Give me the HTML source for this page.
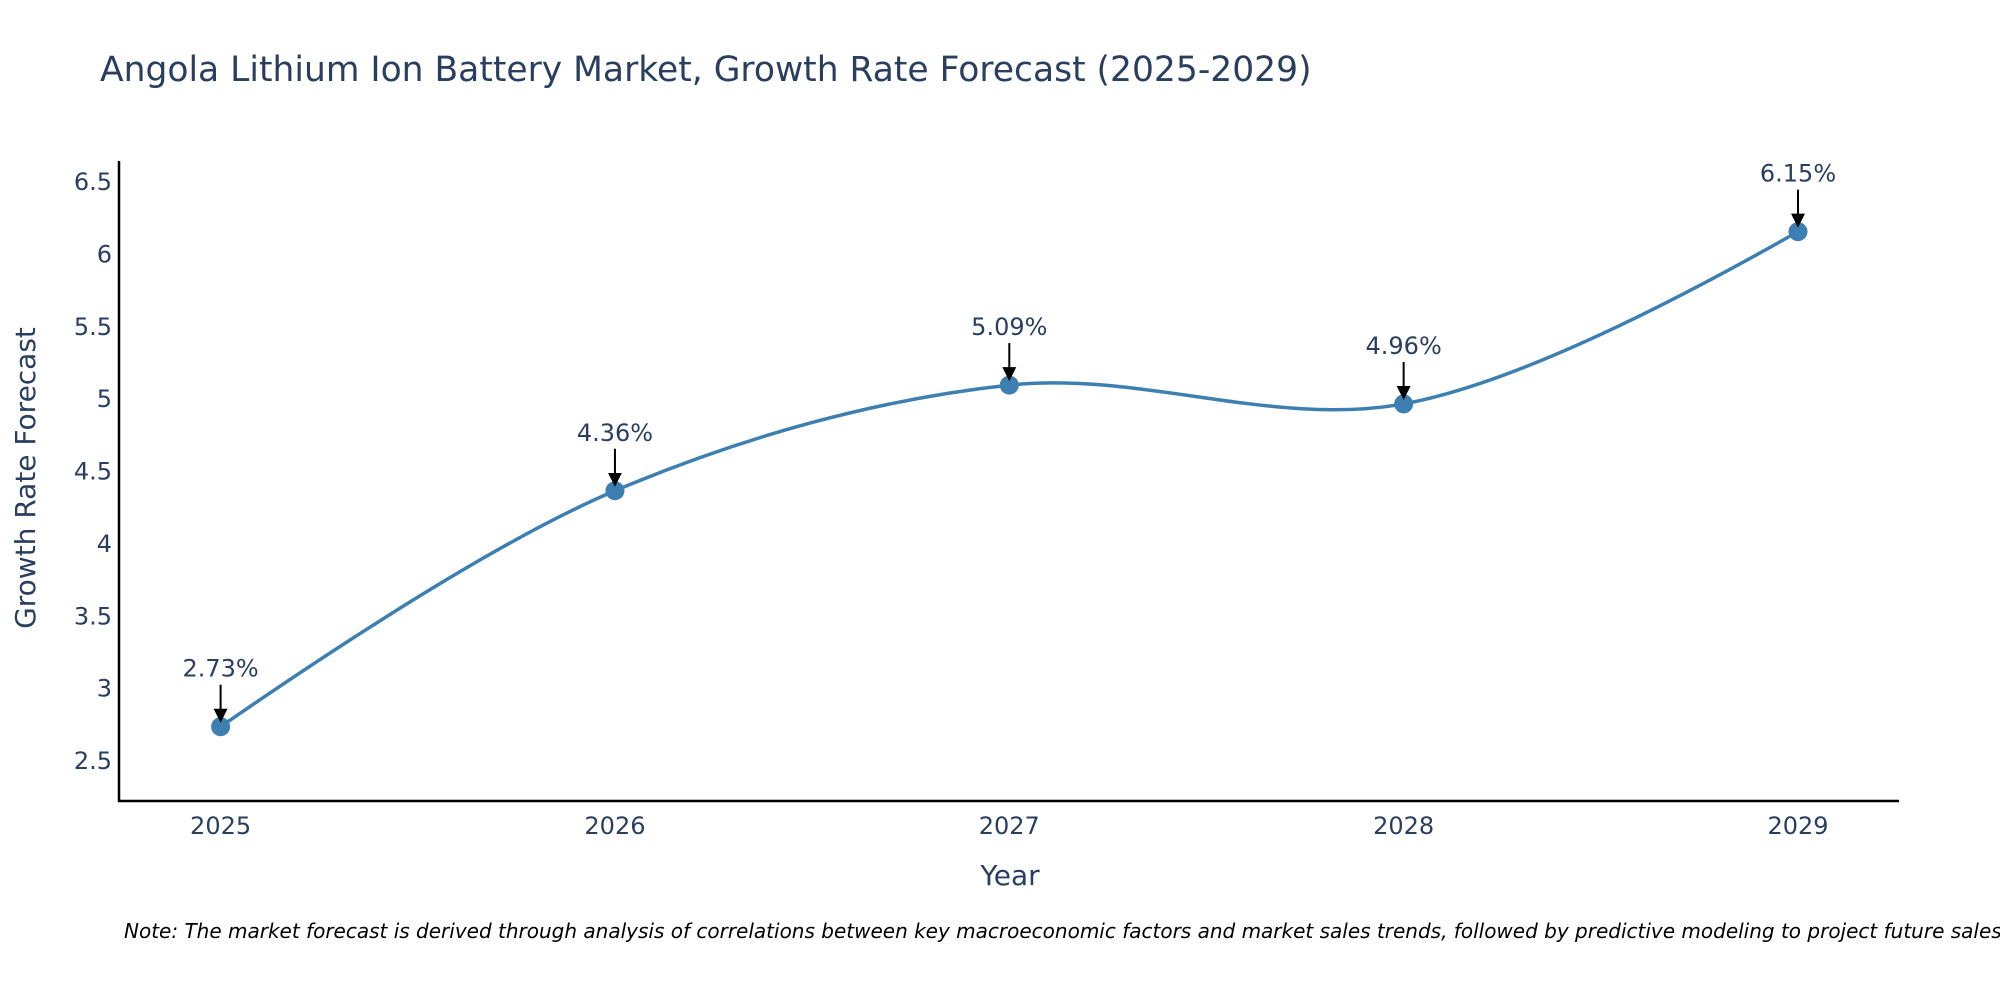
<!DOCTYPE html>
<html><head><meta charset="utf-8"><style>
html,body{margin:0;padding:0;background:#fff;}
svg{display:block;font-family:"DejaVu Sans","Liberation Sans",sans-serif;}
</style></head><body>
<svg id="chart" width="2000" height="1000" viewBox="0 0 2000 1000">
<text x="100" y="81" font-size="34.5" fill="#2a3f5f">Angola Lithium Ion Battery Market, Growth Rate Forecast (2025-2029)</text>
<g id="yticks"></g>
<g id="xticks"></g>
<line x1="119" y1="161" x2="119" y2="802" stroke="#000" stroke-width="2.5"/>
<line x1="118" y1="801" x2="1899" y2="801" stroke="#000" stroke-width="2.5"/>
<text x="0" y="0" transform="translate(35,478) rotate(-90)" text-anchor="middle" font-size="28" fill="#2a3f5f">Growth Rate Forecast</text>
<text x="1010" y="885" text-anchor="middle" font-size="28" fill="#2a3f5f">Year</text>
<g id="series"></g>
<g id="annots"></g>
<text x="124" y="938" font-size="20" font-style="italic" fill="#000">Note: The market forecast is derived through analysis of correlations between key macroeconomic factors and market sales trends, followed by predictive modeling to project future sales.</text>
<defs><marker id="ah" markerWidth="14" markerHeight="16" refX="8" refY="7" orient="auto" markerUnits="userSpaceOnUse" viewBox="0 0 14 16"><path d="M0,0 L14,7 L0,14 z" fill="#000"/></marker></defs>
</svg>
<script>
const years = ["2025","2026","2027","2028","2029"];
const growth = [2.73, 4.36, 5.09, 4.96, 6.15];
const labels = ["2.73%","4.36%","5.09%","4.96%","6.15%"];
const yTicks = [2.5, 3, 3.5, 4, 4.5, 5, 5.5, 6, 6.5];
const yTickLabels = ["2.5","3","3.5","4","4.5","5","5.5","6","6.5"];

const NS = "http://www.w3.org/2000/svg";
const xScale = i => 220.6 + i * (1798 - 220.6) / (years.length - 1);
const yScale = v => 760 - (v - 2.5) * 144.75;
function mk(tag, attrs, parent, text) {
  const e = document.createElementNS(NS, tag);
  for (const k in attrs) e.setAttribute(k, attrs[k]);
  if (text !== undefined) e.textContent = text;
  parent.appendChild(e);
  return e;
}
const yt = document.getElementById('yticks');
yTicks.forEach((v, i) => {
  const t = mk('text', {x: 112, y: yScale(v) + 9, 'text-anchor': 'end', 'font-size': 24, fill: '#2a3f5f'}, yt, yTickLabels[i]);
  
  
});
const xt = document.getElementById('xticks');
years.forEach((y, i) => {
  const t = mk('text', {x: xScale(i), y: 834, 'text-anchor': 'middle', 'font-size': 24, fill: '#2a3f5f'}, xt, y);
  
  
});
const pts = growth.map((v, i) => [xScale(i), yScale(v)]);
function tangent(p, c, n, s) {
  const d1x = p[0]-c[0], d1y = p[1]-c[1], d2x = n[0]-c[0], d2y = n[1]-c[1];
  const d1a = Math.pow(d1x*d1x + d1y*d1y, 0.25), d2a = Math.pow(d2x*d2x + d2y*d2y, 0.25);
  const numx = (d2a*d2a*d1x - d1a*d1a*d2x) * s, numy = (d2a*d2a*d1y - d1a*d1a*d2y) * s;
  const den1 = 3*d2a*(d1a+d2a), den2 = 3*d1a*(d1a+d2a);
  return [[c[0] + numx/den1, c[1] + numy/den1], [c[0] - numx/den2, c[1] - numy/den2]];
}
const tg = [];
for (let i = 1; i < pts.length - 1; i++) tg.push(tangent(pts[i-1], pts[i], pts[i+1], 1));
const P = p => p[0].toFixed(2) + ',' + p[1].toFixed(2);
let d = 'M' + P(pts[0]) + 'Q' + P(tg[0][0]) + ' ' + P(pts[1]);
for (let i = 2; i < pts.length - 1; i++) d += 'C' + P(tg[i-2][1]) + ' ' + P(tg[i-1][0]) + ' ' + P(pts[i]);
d += 'Q' + P(tg[pts.length-3][1]) + ' ' + P(pts[pts.length-1]);
const sg = document.getElementById('series');
const line = mk('path', {d: d, fill: 'none', stroke: '#3d7fb0', 'stroke-width': 3.5}, sg);


const ag = document.getElementById('annots');
growth.forEach((v, i) => {
  const c = mk('circle', {cx: xScale(i), cy: yScale(v), r: 9.5, fill: '#3d7fb0'}, sg);
  
  
  const x = xScale(i), y = yScale(v);
  const a = mk('line', {x1: x, y1: y - 42, x2: x, y2: y - 10, stroke: '#000', 'stroke-width': 2, 'marker-end': 'url(#ah)'}, ag);
  
  
  const t = mk('text', {x: x, y: y - 50, 'text-anchor': 'middle', 'font-size': 24, fill: '#2a3f5f'}, ag, labels[i]);
  
  
});
</script>
</body></html>
